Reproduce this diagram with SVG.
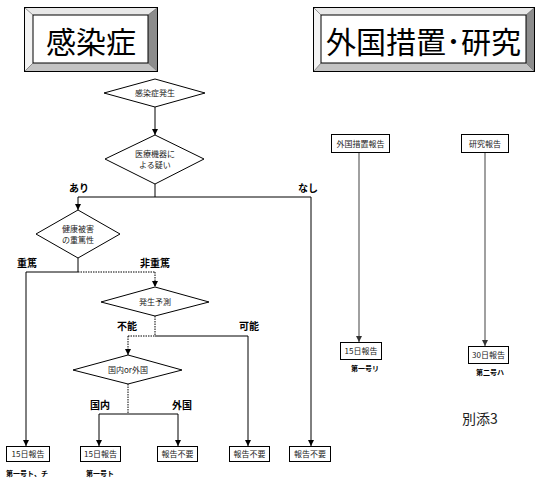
<svg xmlns="http://www.w3.org/2000/svg" width="540" height="479" viewBox="0 0 540 479">
<style>
.t{font-family:"Noto Sans CJK JP","Liberation Sans",sans-serif;fill:#222}
.n{font-size:8px;text-anchor:middle}
.lb{font-size:10px;font-weight:bold;text-anchor:middle;fill:#000}
.sb{font-size:7px;font-weight:bold;text-anchor:middle;fill:#000}
.title{font-size:30px;fill:#000;text-anchor:middle}
.shape{fill:#fff;stroke:#000;stroke-width:1}
.c{fill:none;stroke:#000;stroke-width:1}
.d{fill:none;stroke:#000;stroke-width:1;stroke-dasharray:1.5,1}
.g{fill:none;stroke:#808080;stroke-width:1.5}
</style>
<defs>
<marker id="a" markerUnits="userSpaceOnUse" markerWidth="6" markerHeight="6" refX="6" refY="3" orient="auto"><path d="M0,0 L6,3 L0,6 z" fill="#000"/></marker>
<marker id="ag" markerUnits="userSpaceOnUse" markerWidth="6" markerHeight="6" refX="6" refY="3" orient="auto"><path d="M0,0 L6,3 L0,6 z" fill="#333"/></marker>
</defs>
<rect width="540" height="479" fill="#fff"/>

<g id="title1">
<rect x="24.5" y="7.5" width="133" height="64" fill="#fff" stroke="#000"/>
<polygon points="25,8 157,8 148,15 33,15" fill="#e8e8e8"/>
<polygon points="25,8 33,15 33,63 25,71" fill="#f4f4f4"/>
<polygon points="157,8 157,71 148,63 148,15" fill="#8c8c8c"/>
<polygon points="25,71 157,71 148,63 33,63" fill="#c4c4c4"/>
<rect x="33" y="15" width="115" height="48" fill="#fff" stroke="#000" stroke-width="1"/>
<path d="M25,8 L33,15 M157,8 L148,15 M25,71 L33,63 M157,71 L148,63" stroke="#555" stroke-width="0.6"/>
<text class="t title" x="91" y="53">感染症</text>
</g>

<g id="title2">
<rect x="313.5" y="7.5" width="221" height="64" fill="#fff" stroke="#000"/>
<polygon points="314,8 534,8 526,15 321,15" fill="#e8e8e8"/>
<polygon points="314,8 321,15 321,63 314,71" fill="#f4f4f4"/>
<polygon points="534,8 534,71 526,63 526,15" fill="#8c8c8c"/>
<polygon points="314,71 534,71 526,63 321,63" fill="#c4c4c4"/>
<rect x="321" y="15" width="205" height="48" fill="#fff" stroke="#000" stroke-width="1"/>
<path d="M314,8 L321,15 M534,8 L526,15 M314,71 L321,63 M534,71 L526,63" stroke="#555" stroke-width="0.6"/>
<text class="t title" x="423.5" y="53">外国措置･研究</text>
</g>

<g id="connectors">
<path class="c" d="M155,107 V135" marker-end="url(#a)"/>
<path class="c" d="M155,184 V197 M78,197 H311"/>
<path class="c" d="M78,197 V210" marker-end="url(#a)"/>
<path class="c" d="M311,197 V446" marker-end="url(#a)"/>
<path class="c" d="M78,258 V272 M26,272 H78"/>
<path class="d" d="M78,272 H155"/>
<path class="d" d="M155,272 V287" marker-end="url(#a)"/>
<path class="c" d="M26,272 V446" marker-end="url(#a)"/>
<path class="d" d="M155,316 V336 M128,336 H155"/>
<path class="c" d="M155,336 H248"/>
<path class="d" d="M128,336 V355" marker-end="url(#a)"/>
<path class="c" d="M248,336 V446" marker-end="url(#a)"/>
<path class="d" d="M128,384 V414"/>
<path class="c" d="M99,414 H178"/>
<path class="c" d="M99,414 V446" marker-end="url(#a)"/>
<path class="c" d="M178,414 V446" marker-end="url(#a)"/>
<path class="g" d="M359,152 V342" marker-end="url(#ag)"/>
<path class="g" d="M485,152 V346" marker-end="url(#ag)"/>
</g>

<g id="labels">
<text class="t lb" x="79" y="192">あり</text>
<text class="t lb" x="308" y="192">なし</text>
<text class="t lb" x="27" y="267">重篤</text>
<text class="t lb" x="155" y="267">非重篤</text>
<text class="t lb" x="127" y="330">不能</text>
<text class="t lb" x="249" y="330">可能</text>
<text class="t lb" x="100" y="409">国内</text>
<text class="t lb" x="182" y="409">外国</text>
</g>

<g id="d1"><polygon class="shape" points="155,79 205,93 155,107 104,93"/><text class="t n" x="155" y="96">感染症発生</text></g>
<g id="d2"><polygon class="shape" points="155,135 204,159 155,184 105,159"/><text class="t n" x="155" y="157">医療機器に</text><text class="t n" x="155" y="168">よる疑い</text></g>
<g id="d3"><polygon class="shape" points="78,210 120,234 78,258 36,234"/><text class="t n" x="78" y="232">健康被害</text><text class="t n" x="78" y="243">の重篤性</text></g>
<g id="d4"><polygon class="shape" points="155,287 209,302 155,316 101,302"/><text class="t n" x="155" y="305">発生予測</text></g>
<g id="d5"><polygon class="shape" points="128,355 182,370 128,384 73,370"/><text class="t n" x="128" y="373">国内or外国</text></g>

<g id="b1"><rect class="shape" x="6.5" y="446.5" width="43" height="15"/><text class="t n" x="28" y="457">15日報告</text><text class="t sb" x="27" y="476">第一号ト、チ</text></g>
<g id="b2"><rect class="shape" x="80.5" y="446.5" width="40" height="15"/><text class="t n" x="100.5" y="457">15日報告</text><text class="t sb" x="100" y="476">第一号ト</text></g>
<g id="b3"><rect class="shape" x="157.5" y="446.5" width="40" height="15"/><text class="t n" x="177.5" y="457">報告不要</text></g>
<g id="b4"><rect class="shape" x="229.5" y="446.5" width="40" height="15"/><text class="t n" x="249.5" y="457">報告不要</text></g>
<g id="b5"><rect class="shape" x="289.5" y="446.5" width="41" height="15"/><text class="t n" x="310" y="457">報告不要</text></g>

<g id="r1"><rect class="shape" x="331.5" y="134.5" width="58" height="18"/><text class="t n" x="360.5" y="146.5">外国措置報告</text></g>
<g id="r2"><rect class="shape" x="461.5" y="134.5" width="47" height="18"/><text class="t n" x="485" y="146.5">研究報告</text></g>
<g id="r3"><rect class="shape" x="340.5" y="342.5" width="41" height="17"/><text class="t n" x="361" y="354">15日報告</text><text class="t sb" x="365" y="371">第一号リ</text></g>
<g id="r4"><rect class="shape" x="468.5" y="346.5" width="40" height="17"/><text class="t n" x="488.5" y="358">30日報告</text><text class="t sb" x="490" y="375">第二号ハ</text></g>

<text class="t" x="462" y="424" font-size="14" fill="#222">別添3</text>
</svg>
